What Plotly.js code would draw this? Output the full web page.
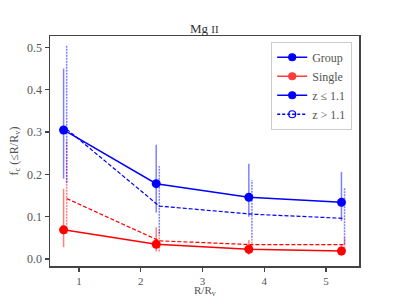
<!DOCTYPE html>
<html><head><meta charset="utf-8">
<script src="https://cdn.plot.ly/plotly-3.0.1.min.js"></script>
<style>html,body{margin:0;padding:0;background:#fff;}#chart{width:399px;height:299px;}</style>
</head><body><div id="chart"></div>
<script>
// Radial bins
var xLow  = [0.75, 2.25, 3.75, 5.25];
var xHigh = [0.80, 2.30, 3.80, 5.30];
// Group, z <= 1.1
var groupLowY  = [0.305, 0.178, 0.146, 0.134];
var groupLowHi = [0.450, 0.270, 0.225, 0.206];
var groupLowLo = [0.190, 0.110, 0.100, 0.090];
// Group, z > 1.1
var groupHighY  = [0.307, 0.125, 0.106, 0.096];
var groupHighHi = [0.504, 0.220, 0.187, 0.169];
var groupHighLo = [0.180, 0.060, 0.050, 0.035];
// Single, z <= 1.1
var singleLowY  = [0.069, 0.035, 0.023, 0.019];
var singleLowHi = [0.166, 0.075, 0.045, 0.035];
var singleLowLo = [0.028, 0.018, 0.010, 0.008];
// Single, z > 1.1
var singleHighY  = [0.143, 0.043, 0.034, 0.034];
var singleHighHi = [0.280, 0.070, 0.050, 0.050];
var singleHighLo = [0.060, 0.018, 0.015, 0.018];

var xTicks = [1, 2, 3, 4, 5];
var yTicks = [0.0, 0.1, 0.2, 0.3, 0.4, 0.5];

var FONT = 'Liberation Serif';
var BLUE = 'rgb(0,0,255)', RED = 'rgb(255,0,0)';
var BLUE_A = 'rgba(0,0,255,0.5)', RED_A = 'rgba(255,0,0,0.5)';

function solid(x, y, hi, lo, col, colA) {
  return {x: x, y: y, mode: 'lines+markers', showlegend: false,
    line: {color: col, width: 1.5},
    marker: {color: col, size: 9, symbol: 'circle'},
    error_y: {type: 'data', symmetric: false,
      array: y.map(function(v,i){return hi[i]-v;}),
      arrayminus: y.map(function(v,i){return v-lo[i];}),
      color: colA, thickness: 1.5, width: 0}};
}
function dashErr(x, hi, lo, colA) {
  var xs = [], ys = [];
  for (var i = 0; i < x.length; i++) { xs.push(x[i], x[i], null); ys.push(lo[i], hi[i], null); }
  return {x: xs, y: ys, mode: 'lines', showlegend: false, hoverinfo: 'skip',
    line: {color: colA, width: 1.5, dash: '2px,1px'}};
}
function openTr(x, y, col) {
  return {x: x, y: y, mode: 'lines+markers', showlegend: false,
    line: {color: col, width: 1.2, dash: '4px,2px'},
    marker: {color: 'rgba(0,0,0,0)', size: 9, symbol: 'circle-open', line: {color: col, width: 1.2}}};
}
function legendTr(name, col, dash, sym) {
  return {x: [null], y: [null], name: name, mode: 'lines+markers', showlegend: true,
    line: {color: col, width: 1.5, dash: dash},
    marker: {color: col, size: 7, symbol: sym, line: {color: col, width: 1.2}}};
}

var data = [
  dashErr(xHigh, singleHighHi, singleHighLo, RED_A),
  dashErr(xHigh, groupHighHi, groupHighLo, BLUE_A),
  openTr(xHigh, singleHighY, RED),
  openTr(xHigh, groupHighY, BLUE),
  solid(xLow, singleLowY, singleLowHi, singleLowLo, RED, RED_A),
  solid(xLow, groupLowY, groupLowHi, groupLowLo, BLUE, BLUE_A),
  legendTr('Group', BLUE, 'solid', 'circle'),
  legendTr('Single', 'rgb(255,60,60)', 'solid', 'circle'),
  legendTr('z \u2264 1.1', BLUE, 'solid', 'circle'),
  legendTr('z > 1.1', BLUE, '3px,2px', 'circle-open')
];

var axisCommon = {showgrid: false, zeroline: false, showline: true, mirror: true,
  linecolor: '#444', linewidth: 1.5, ticks: 'outside', ticklen: 4, tickwidth: 1.2,
  tickcolor: '#444', tickfont: {family: FONT, size: 12, color: '#555'}};

var layout = {
  width: 399, height: 299,
  margin: {l: 50, r: 40, t: 36, b: 33},
  paper_bgcolor: '#fff', plot_bgcolor: '#fff',
  font: {family: FONT},
  title: {text: 'Mg <span style="font-size:11px">II</span>', x: 0.512, xanchor: 'center', y: 0.905, yanchor: 'middle',
    font: {family: FONT, size: 13, color: '#333'}},
  xaxis: Object.assign({}, axisCommon, {range: [0.53, 5.534], tickvals: xTicks,
    ticktext: xTicks.map(String), automargin: false, tickfont: {family: FONT, size: 11, color: '#555'}}),
  yaxis: Object.assign({}, axisCommon, {range: [-0.0165, 0.527], tickvals: yTicks,
    ticktext: yTicks.map(function(v){return v.toFixed(1);}), automargin: false,
    title: {text: 'f<sub>c</sub> (\u2264R/R<sub>v</sub>)', standoff: 6, font: {family: FONT, size: 12, color: '#555'}}}),
  annotations: [{text: 'R/R<sub>v</sub>', xref: 'paper', yref: 'paper', x: 0.5, y: -0.108,
    xanchor: 'center', yanchor: 'middle', showarrow: false, borderpad: 0,
    font: {family: FONT, size: 11, color: '#555'}}],
  legend: {x: 0.978, y: 0.975, xanchor: 'right', yanchor: 'top', bgcolor: '#fff',
    bordercolor: '#ccc', borderwidth: 1, tracegroupgap: 0, itemwidth: 30,
    font: {family: FONT, size: 12, color: '#555'}},
  showlegend: true
};

Plotly.newPlot('chart', data, layout, {displayModeBar: false, staticPlot: true});
</script>
</body></html>
